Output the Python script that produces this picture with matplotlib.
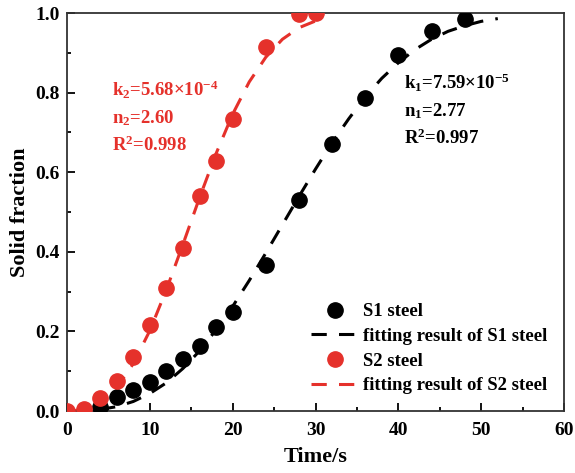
import numpy as np
import matplotlib
matplotlib.use('Agg')
import matplotlib.pyplot as plt
from matplotlib.ticker import MultipleLocator

plt.rcParams['font.family'] = ['Liberation Serif', 'DejaVu Serif']
plt.rcParams['font.weight'] = 'bold'
plt.rcParams['mathtext.fontset'] = 'custom'
plt.rcParams['mathtext.rm'] = 'Liberation Serif:bold'
plt.rcParams['mathtext.bf'] = 'Liberation Serif:bold'
plt.rcParams['mathtext.it'] = 'Liberation Serif:bold'

# measured points
t_s1 = [4, 6, 8, 10, 12, 14, 16, 18, 20, 24, 28, 32, 36, 40, 44, 48]
f_s1 = [0.01, 0.035, 0.052, 0.073, 0.10, 0.13, 0.163, 0.21, 0.25, 0.367,
        0.531, 0.67, 0.787, 0.895, 0.955, 0.985]
t_s2 = [0, 2, 4, 6, 8, 10, 12, 14, 16, 18, 20, 24, 28, 30]
f_s2 = [0.0, 0.005, 0.033, 0.075, 0.136, 0.216, 0.308, 0.41, 0.54, 0.627,
        0.733, 0.915, 0.998, 1.0]

# fitted curves
tf_s1 = [4, 6, 8, 10, 12, 14, 16, 18, 20, 22, 24, 26, 28, 30, 32, 34, 36,
         38, 40, 42, 44, 46, 48, 50, 52]
ff_s1 = [0.004, 0.011, 0.024, 0.044, 0.071, 0.107, 0.151, 0.204, 0.263,
         0.328, 0.397, 0.468, 0.539, 0.608, 0.674, 0.734, 0.789, 0.836,
         0.875, 0.908, 0.934, 0.954, 0.968, 0.979, 0.986]
tf_s2 = [0, 2, 4, 6, 8, 10, 12, 14, 16, 18, 20, 22, 24, 26, 28, 30]
ff_s2 = [0.0, 0.003, 0.021, 0.058, 0.119, 0.202, 0.305, 0.419, 0.536,
         0.647, 0.746, 0.827, 0.889, 0.934, 0.963, 0.98]

red = '#e5312b'

fig = plt.figure(figsize=(5.75, 4.73), dpi=100)
ax = fig.add_axes([0.1165, 0.131, 0.8645, 0.8415])

ax.plot(t_s1, f_s1, 'o', color='black', ms=11, label='S1 steel', zorder=3)
ax.plot(tf_s1, ff_s1, color='black', lw=2.2, dashes=(5, 4),
        label='fitting result of S1 steel', zorder=2)
ax.plot(t_s2, f_s2, 'o', color=red, ms=11, label='S2 steel', zorder=3)
ax.plot(tf_s2, ff_s2, color=red, lw=2.2, dashes=(5, 4),
        label='fitting result of S2 steel', zorder=2)

ax.set_xlim(0, 60)
ax.set_ylim(0, 1.0)
ax.xaxis.set_major_locator(MultipleLocator(10))
ax.xaxis.set_minor_locator(MultipleLocator(5))
ax.yaxis.set_major_locator(MultipleLocator(0.2))
ax.yaxis.set_minor_locator(MultipleLocator(0.1))
ax.tick_params(which='both', direction='in', labelsize=14, width=1.3)
ax.tick_params(which='major', length=6)
ax.tick_params(which='minor', length=3)
ax.tick_params(axis='x', pad=8)
ax.tick_params(axis='y', pad=5)
ax.set_yticklabels(['%.1f' % v for v in ax.get_yticks()])
for s in ax.spines.values():
    s.set_linewidth(1.3)
    s.set_color('#333333')

ax.set_xlabel('Time/s', fontsize=16, fontweight='bold', labelpad=6)
ax.set_ylabel('Solid fraction', fontsize=16, fontweight='bold', labelpad=4)

ax.text(40.7, 0.66, r'$\mathbf{k_1}$=7.59$\times$10$^{\mathbf{-5}}$' + '\n' +
        r'$\mathbf{n_1}$=2.77' + '\n' + r'R$^{\mathbf{2}}$=0.997',
        fontsize=13.5, color='black', linespacing=1.5, va='bottom')
ax.text(5.4, 0.643, r'$\mathbf{k_2}$=5.68$\times$10$^{\mathbf{-4}}$' + '\n' +
        r'$\mathbf{n_2}$=2.60' + '\n' + r'R$^{\mathbf{2}}$=0.998',
        fontsize=13.5, color=red, linespacing=1.5, va='bottom')

leg = ax.legend(loc='lower right', frameon=False, fontsize=13.5,
                handlelength=2.5, handletextpad=0.25, labelspacing=0.4,
                borderaxespad=0.5)

fig.savefig('out.png', dpi=100)
